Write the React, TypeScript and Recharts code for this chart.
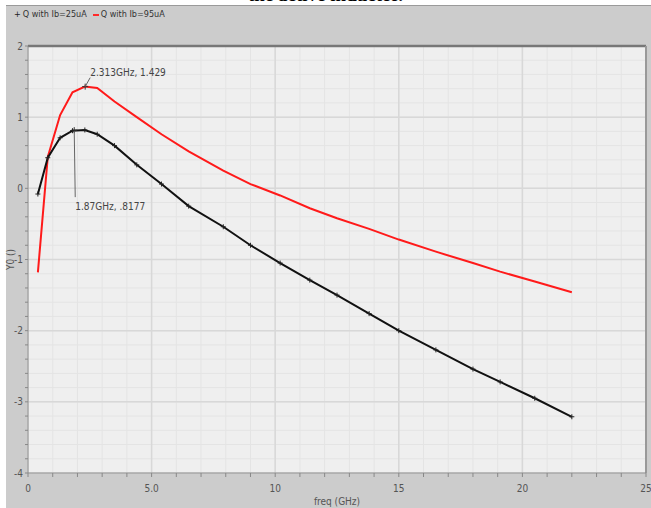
import {
  LineChart,
  Line,
  XAxis,
  YAxis,
  CartesianGrid,
  ReferenceLine,
  ReferenceDot,
  Legend,
} from 'recharts';

// frequency sweep (GHz) and the two Q curves
const freq = [0.4, 0.8, 1.3, 1.8, 2.3, 2.8, 3.5, 4.4, 5.4, 6.5, 7.9, 9.0, 10.2, 11.4, 12.5, 13.8, 15.0, 16.5, 18.0, 19.1, 20.5, 22.0];
const q25 = [-0.08, 0.43, 0.71, 0.81, 0.82, 0.76, 0.6, 0.33, 0.06, -0.25, -0.54, -0.8, -1.05, -1.29, -1.5, -1.76, -2.0, -2.27, -2.54, -2.72, -2.95, -3.21];
const q95 = [-1.18, 0.44, 1.03, 1.35, 1.43, 1.41, 1.22, 1.0, 0.76, 0.52, 0.25, 0.06, -0.1, -0.28, -0.42, -0.57, -0.72, -0.89, -1.05, -1.17, -1.31, -1.46];

const seriesNames = ['Q with Ib=25uA', 'Q with Ib=95uA'];

const xTicks = Array.from({ length: 26 }, (_, i) => i);
const yTicks = Array.from({ length: 31 }, (_, i) => Math.round((-4 + i * 0.2) * 10) / 10);
const xMajor = [5, 10, 15, 20];
const yMajor = [-3, -2, -1, 0, 1];

// marker readouts
const peak95 = { f: 2.313, q: 1.429, text: '2.313GHz, 1.429' };
const peak25 = { f: 1.87, q: 0.8177, text: '1.87GHz, .8177' };

const rows = freq.map((f, i) => ({ freq: f, q25: q25[i], q95: q95[i] }));

const font = "'Liberation Sans Narrow', 'DejaVu Sans Condensed', 'Liberation Sans', sans-serif";

const fmtX = (v: number) => {
  if (v % 5 !== 0) return '';
  return v === 5 ? '5.0' : String(v);
};
const fmtY = (v: number) => (Math.abs(v - Math.round(v)) < 1e-6 ? String(Math.round(v)) : '');

const Cross = (props: any) => {
  const { cx, cy } = props;
  if (cx == null || cy == null) return null;
  return (
    <g stroke="#222" strokeWidth={1}>
      <line x1={cx - 2.5} y1={cy} x2={cx + 2.5} y2={cy} />
      <line x1={cx} y1={cy - 2.5} x2={cx} y2={cy + 2.5} />
    </g>
  );
};

const markerShape = (text: string, dx: number, dy: number, tdy: number) => (props: any) => {
  const { cx, cy } = props;
  return (
    <g>
      <line x1={cx - 3} y1={cy} x2={cx + 3} y2={cy} stroke="#333" />
      <line x1={cx} y1={cy - 3} x2={cx} y2={cy + 3} stroke="#333" />
      <line x1={cx} y1={cy} x2={cx + dx} y2={cy + dy} stroke="#666" strokeWidth={1} />
      <text x={cx + dx} y={cy + dy + tdy} fontSize={10} fill="#444" fontFamily={font}>
        {text}
      </text>
    </g>
  );
};

const LegendBox = () => (
  <div style={{ display: 'flex', gap: 6, fontFamily: font, fontSize: 9, color: '#333', whiteSpace: 'nowrap' }}>
    <span>
      <span style={{ color: '#222', marginRight: 2 }}>+</span>
      {seriesNames[0]}
    </span>
    <span>
      <span style={{ display: 'inline-block', width: 6, height: 2, background: '#ff2a2a', verticalAlign: 'middle', marginRight: 2 }} />
      {seriesNames[1]}
    </span>
  </div>
);

export default function App() {
  return (
    <div style={{ position: 'absolute', left: 0, top: 0, width: 651, height: 508, background: '#fff', overflow: 'hidden' }}>
      <div style={{ position: 'absolute', left: 0, top: 0, width: 651, height: 5, overflow: 'hidden' }}>
        <div
          style={{
            position: 'absolute',
            top: -16,
            width: 651,
            textAlign: 'center',
            fontFamily: "'Liberation Serif', serif",
            fontSize: 19,
            fontWeight: 'bold',
            color: '#000',
          }}
        >
          the active inductor.
        </div>
      </div>
      <div
        style={{
          position: 'absolute',
          left: 6,
          top: 5,
          width: 645,
          height: 503,
          background: '#cccccc',
          borderTop: '1px solid #9a9a9a',
          boxSizing: 'border-box',
        }}
      />
      <div style={{ position: 'absolute', left: 0, top: 0 }}>
        <LineChart width={651} height={508} data={rows} margin={{ top: 46, right: 5, bottom: 0, left: 0 }}>
          <CartesianGrid fill="#efefef" stroke="#e4e4e4" strokeWidth={1} />
          {xMajor.map((v) => (
            <ReferenceLine key={'x' + v} x={v} stroke="#d8d8d8" strokeWidth={1.5} />
          ))}
          {yMajor.map((v) => (
            <ReferenceLine key={'y' + v} y={v} stroke="#d8d8d8" strokeWidth={1.5} />
          ))}
          <ReferenceLine y={2} stroke="#777" strokeWidth={2.5} />
          <ReferenceLine x={25} stroke="#999" strokeWidth={2} />
          <XAxis
            type="number"
            dataKey="freq"
            domain={[0, 25]}
            ticks={xTicks}
            interval={0}
            tickFormatter={fmtX}
            height={35}
            tickSize={4}
            tickMargin={8}
            stroke="#888"
            tick={{ fontSize: 10, fill: '#555', fontFamily: font }}
            label={{ value: 'freq (GHz)', position: 'insideBottom', offset: 3, fontSize: 10, fill: '#555', fontFamily: font }}
          />
          <YAxis
            type="number"
            domain={[-4, 2]}
            ticks={yTicks}
            interval={0}
            tickFormatter={fmtY}
            width={28}
            tickSize={3}
            tickMargin={2}
            stroke="#888"
            tick={{ fontSize: 10, fill: '#555', fontFamily: font }}
            label={{ value: 'Y0 ()', angle: -90, position: 'center', dx: -4, fontSize: 10, fill: '#555', fontFamily: font }}
          />
          <Legend verticalAlign="middle" content={<LegendBox />} wrapperStyle={{ top: 9, left: 14, width: 'auto', height: 'auto' }} />
          <Line
            type="linear"
            dataKey="q95"
            name={seriesNames[1]}
            stroke="#ff1a1a"
            strokeWidth={2}
            dot={false}
            isAnimationActive={false}
          />
          <Line
            type="linear"
            dataKey="q25"
            name={seriesNames[0]}
            stroke="#111"
            strokeWidth={2}
            dot={<Cross />}
            isAnimationActive={false}
          />
          <ReferenceDot x={peak95.f} y={peak95.q} shape={markerShape(peak95.text, 5, -9, -2)} />
          <ReferenceDot x={peak25.f} y={peak25.q} shape={markerShape(peak25.text, 1, 67, 13)} />
        </LineChart>
      </div>
    </div>
  );
}
